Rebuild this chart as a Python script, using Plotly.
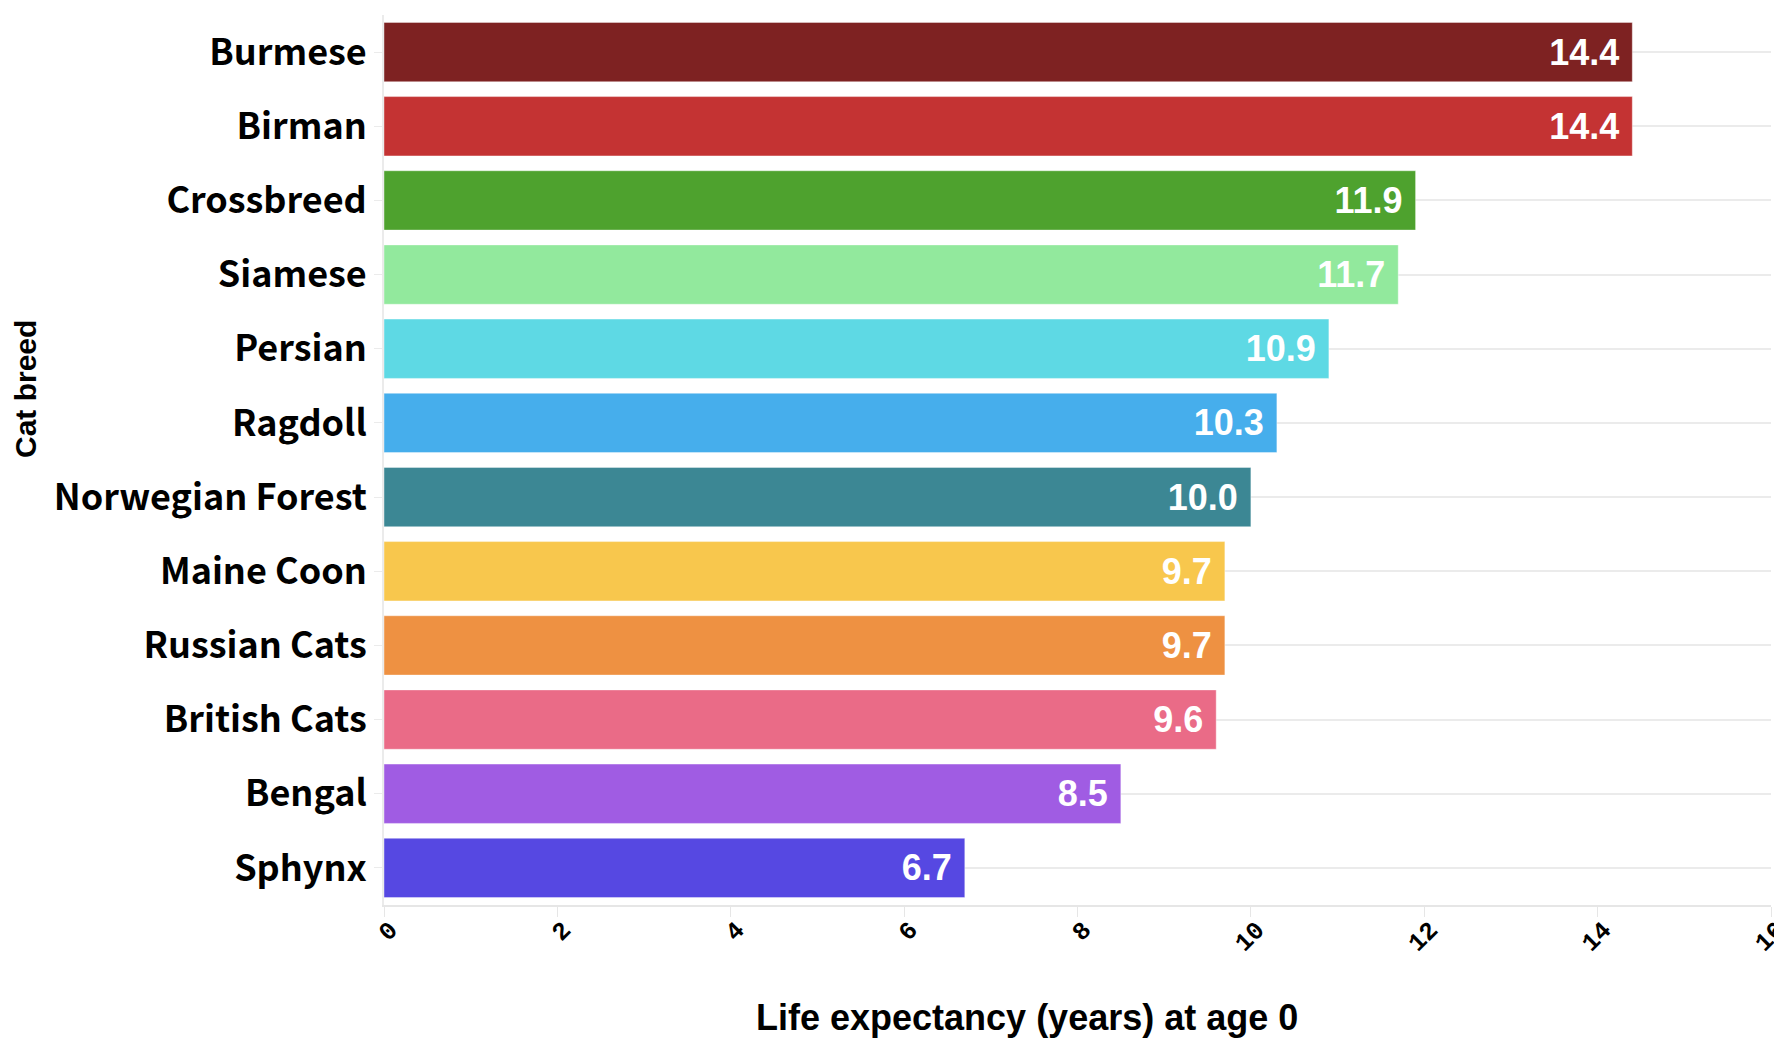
import plotly.graph_objects as go

breeds = ["Burmese", "Birman", "Crossbreed", "Siamese", "Persian", "Ragdoll",
          "Norwegian Forest", "Maine Coon", "Russian Cats", "British Cats", "Bengal", "Sphynx"]
life_expectancy = [14.4, 14.4, 11.9, 11.7, 10.9, 10.3, 10.0, 9.7, 9.7, 9.6, 8.5, 6.7]
colors = ["#7e2222", "#c43333", "#4ea22e", "#92e99d", "#5ed9e4", "#46aeec",
          "#3c8794", "#f8c74d", "#ee9142", "#ea6b87", "#a05ce3", "#5648e2"]
x_ticks = [0, 2, 4, 6, 8, 10, 12, 14, 16]

W, H = 1774, 1041
l, r, t, b = 384, 3, 15, 136
pw, ph = W - l - r, H - t - b

fig = go.Figure(go.Bar(
    x=life_expectancy,
    y=breeds,
    orientation="h",
    marker=dict(color=colors, line=dict(color="rgba(255,255,255,0.4)", width=1)),
    text=[f"{v:.1f}\u00a0" for v in life_expectancy],
    textposition="inside",
    insidetextanchor="end",
    textfont=dict(family="Liberation Sans, Arial", size=36, color="white", weight="bold"),
    cliponaxis=False,
))

fig.update_layout(
    width=W, height=H,
    margin=dict(l=l, r=r, t=t, b=b),
    plot_bgcolor="white", paper_bgcolor="white",
    bargap=0.2,
    showlegend=False,
    xaxis=dict(
        range=[0, 16], tickvals=x_ticks, ticktext=[str(t) for t in x_ticks],
        tickangle=-45, ticks="outside", ticklen=10, tickcolor="#e6e6e6",
        ticklabelshift=6, ticklabelstandoff=-12, ticklabeloverflow="allow",
        showgrid=False, zeroline=False, automargin=False,
        showline=True, linecolor="#e6e6e6", linewidth=2,
        tickfont=dict(family="Liberation Mono", size=25, color="black", weight="bold"),
    ),
    yaxis=dict(
        categoryorder="array", categoryarray=breeds, autorange="reversed",
        showgrid=True, gridcolor="#ebebeb", gridwidth=2, automargin=False,
        ticks="outside", ticklen=8, tickcolor="#ebebeb",
        showline=True, linecolor="#ebebeb", linewidth=2,
        tickfont=dict(family="Noto Sans CJK SC", size=36, color="black", weight="bold"),
    ),
)

fig.add_annotation(text="Life expectancy (years) at age 0",
                   x=(1027 - l) / pw, y=(H - b - 1018) / ph,
                   xref="paper", yref="paper", xanchor="center", yanchor="middle",
                   showarrow=False,
                   font=dict(family="Liberation Sans, Arial", size=36, color="black", weight="bold"))
fig.add_annotation(text="Cat breed",
                   x=(25 - l) / pw, y=(H - b - 389) / ph,
                   xref="paper", yref="paper", xanchor="center", yanchor="middle",
                   showarrow=False, textangle=-90,
                   font=dict(family="Liberation Sans, Arial", size=30, color="black", weight="bold"))

fig.write_html("out.html",
               config={"displayModeBar": False},
               post_script="document.body.style.margin='0';document.body.style.overflow='hidden';")
